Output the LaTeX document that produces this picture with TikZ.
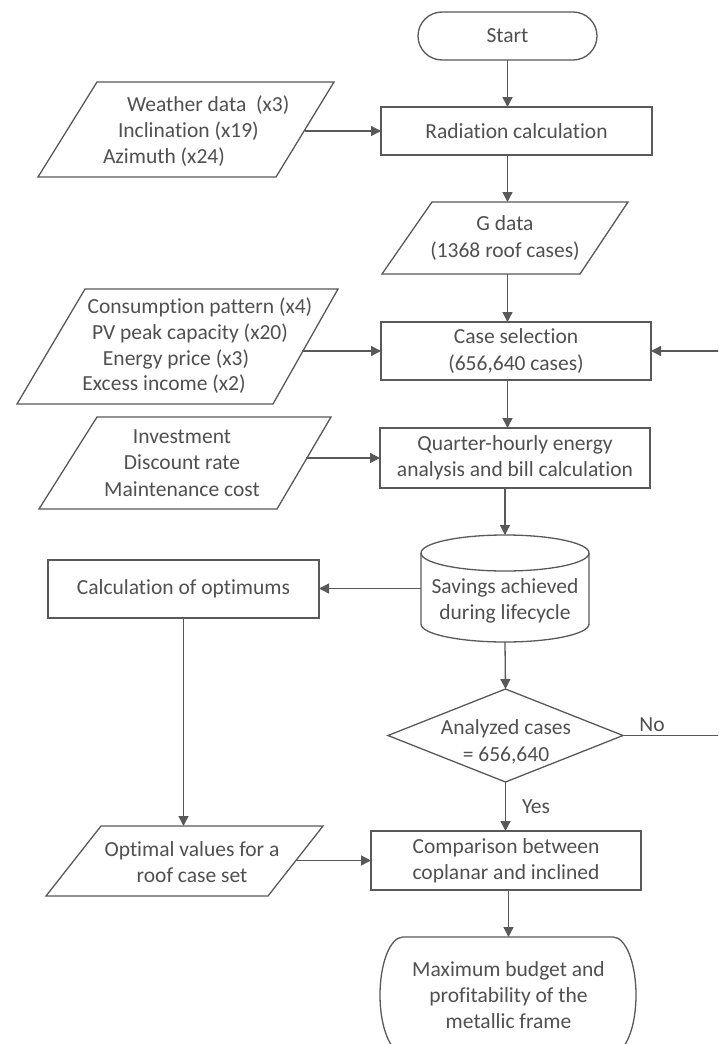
\documentclass[tikz,border=0pt]{standalone}
\usepackage{fontspec}
\setmainfont{Carlito}[Ligatures={NoCommon}]
\usetikzlibrary{arrows.meta}
\definecolor{lncol}{HTML}{595959}
\definecolor{txcol}{HTML}{505050}
\begin{document}
\begin{tikzpicture}[x=1pt,y=-1pt,
 every node/.style={text=txcol, font=\fontsize{21.5}{26.2}\selectfont, inner sep=0pt, outer sep=0pt},
 shp/.style={draw=lncol, line width=1.3pt},
 proc/.style={shp, rectangle, align=center, minimum width=270pt},
 arr/.style={draw=lncol, line width=1.3pt, -{Triangle[length=10pt,width=10pt]}},
 plain/.style={draw=lncol, line width=1.3pt}
]
\useasboundingbox (0,0) rectangle (718,1044);
\clip (0,0) rectangle (718,1044);
\fill[white] (0,0) rectangle (718,1044);

% process boxes
\node[shp, rounded corners=24pt, minimum width=179pt, minimum height=48pt] (start) at (507.5,36) {Start};
\node[proc, minimum width=271pt, minimum height=48pt] (rad) at (516.5,131) {Radiation calculation};
\node[proc, minimum height=58pt] (case) at (516,351) {Case selection\\(656,640 cases)};
\node[proc, minimum height=60pt] (quar) at (515,458) {Quarter-hourly energy\\analysis and bill calculation};
\node[proc, minimum width=271pt, minimum height=58pt] (calc) at (183.5,589) {Calculation of optimums};
\node[proc, minimum height=59pt] (comp) at (506,860.5) {Comparison between\\coplanar and inclined};

% input 1
\draw[shp] (97,82) -- (334,82) -- (276,177) -- (38,177) -- cycle;
\node[anchor=west] (w1) at (127,105) {Weather data\ \ (x3)};
\node[anchor=west] (w2) at (118,131) {Inclination (x19)};
\node[anchor=west] (w3) at (103,157) {Azimuth (x24)};
\coordinate (p1r) at (305,131);

% G data
\draw[shp] (432,202) -- (628,202) -- (580,274) -- (382,274) -- cycle;
\node[align=center] (gd) at (505,238) {G data\\(1368 roof cases)};
\coordinate (gtop) at (507.5,202);
\coordinate (gbot) at (507.5,274);

% input 2
\draw[shp] (85,289) -- (338,289) -- (273,404) -- (17,404) -- cycle;
\node (c1) at (200,307) {Consumption pattern (x4)};
\node (c2) at (190,333) {PV peak capacity (x20)};
\node (c3) at (176,359) {Energy price (x3)};
\node (c4) at (164,384) {Excess income (x2)};
\coordinate (p2r) at (302,351);

% input 3
\draw[shp] (97,417) -- (331,417) -- (277,509) -- (39,509) -- cycle;
\node[align=center] (inv) at (182,463) {Investment\\Discount rate\\Maintenance cost};
\coordinate (p3r) at (306,458);

% input 4
\draw[shp] (101,826) -- (323,826) -- (268,896) -- (46,896) -- cycle;
\node[align=center] (opt) at (192,862) {Optimal values for a\\roof case set};
\coordinate (p4t) at (183.5,826);
\coordinate (p4r) at (296,860.5);

% cylinder
\node[minimum width=168pt, minimum height=107pt] (sav) at (505,588.5) {};
\draw[shp] (421,553) -- (421,624) arc[start angle=180, end angle=360, x radius=84pt, y radius=18pt] -- (589,553);
\draw[shp] (505,553) ellipse [x radius=84pt, y radius=18pt];
\node[align=center] (savt) at (505,601) {Savings achieved\\during lifecycle};

% decision
\node[minimum width=235pt, minimum height=93pt] (dec) at (505.5,735.5) {};
\draw[shp] (dec.north) -- (dec.east) -- (dec.south) -- (dec.west) -- cycle;
\node[align=center] (dect) at (506,742) {Analyzed cases\\= 656,640};

% end terminal
\node[minimum width=255pt, minimum height=116pt, align=center] (maxb) at (508.5,995) {Maximum budget and\\profitability of the\\metallic frame};
\draw[shp] (403,937) -- (613,937) arc[start angle=90, end angle=-90, x radius=23pt, y radius=58pt] -- (403,1053) arc[start angle=270, end angle=90, x radius=23pt, y radius=58pt] -- cycle;

% connectors
\draw[arr] (start.south) -- (start.south |- rad.north);
\draw[arr] (rad.south -| gtop) -- (gtop);
\draw[arr] (gbot) -- (gbot |- case.north);
\draw[arr] (case.south -| gbot) -- (gbot |- quar.north);
\draw[arr] (quar.south -| sav.north) -- (sav.north);
\draw[arr] (sav.south) -- (dec.north);
\draw[arr] (dec.south) -- (dec.south |- comp.north);
\node[anchor=west] (yes) at (522,807) {Yes};
\draw[arr] (comp.south -| maxb.north) -- (maxb.north);
\draw[arr] (calc.south) -- (p4t);
\draw[arr] (p1r) -- (p1r -| rad.west);
\draw[arr] (p2r) -- (p2r -| case.west);
\draw[arr] (p3r) -- (p3r -| quar.west);
\draw[arr] (p4r) -- (p4r -| comp.west);
\draw[arr] (sav.west) -- (sav.west -| calc.east);
\coordinate (loopa) at (724,735.5);
\coordinate (loopb) at (724,351);
\draw[arr] (dec.east) -- (loopa) -- (loopb) -- (case.east);
\node (no) at (652,725) {No};
\end{tikzpicture}
\end{document}
